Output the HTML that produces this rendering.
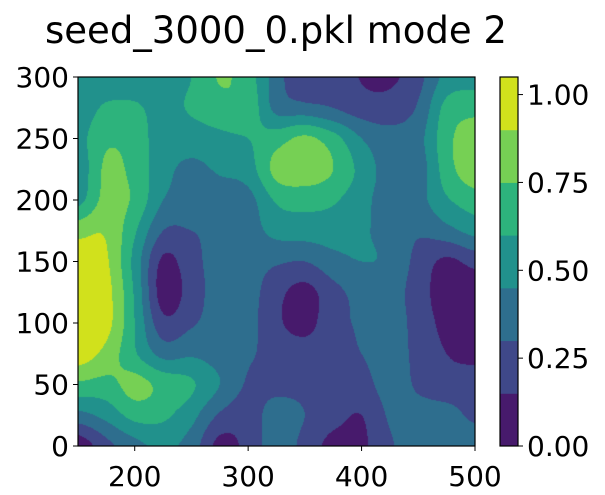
<!DOCTYPE html>
<html><head><meta charset="utf-8">
<style>
html,body{margin:0;padding:0;background:#fff;width:605px;height:495px;overflow:hidden;}
#wrap{position:relative;width:605px;height:495px;font-family:"DejaVu Sans","Liberation Sans",sans-serif;}
#field{position:absolute;left:78px;top:77px;}
svg{position:absolute;left:0;top:0;}
text{font-family:"DejaVu Sans","Liberation Sans",sans-serif;fill:#000;}
</style></head>
<body>
<div id="wrap">
<canvas id="field" width="397" height="369"></canvas>
<svg id="ax" width="605" height="495"></svg>
</div>
<script>
// data grid: columns x = 150..500 step 25, rows y = 300..0 step 25 (top to bottom)
const xCoords = [150,175,200,225,250,275,300,325,350,375,400,425,450,475,500];
const yCoords = [300,275,250,225,200,175,150,125,100,75,50,25,0];
const grid = [
[0.52,0.52,0.52,0.52,0.60,0.76,0.67,0.37,0.16,0.25,0.14,0.12,0.25,0.50,0.55],
[0.52,0.62,0.62,0.55,0.62,0.70,0.70,0.40,0.35,0.30,0.22,0.22,0.32,0.65,0.70],
[0.55,0.72,0.68,0.52,0.52,0.56,0.60,0.68,0.78,0.66,0.45,0.35,0.40,0.70,0.85],
[0.50,0.78,0.70,0.50,0.42,0.47,0.53,0.80,0.85,0.75,0.55,0.38,0.37,0.68,0.85],
[0.55,0.80,0.72,0.45,0.40,0.38,0.40,0.62,0.65,0.62,0.50,0.38,0.40,0.58,0.68],
[0.85,0.88,0.62,0.30,0.30,0.35,0.38,0.50,0.52,0.52,0.47,0.40,0.32,0.40,0.50],
[0.98,0.92,0.55,0.12,0.25,0.36,0.36,0.32,0.30,0.40,0.45,0.42,0.25,0.12,0.20],
[0.98,0.95,0.58,0.08,0.22,0.37,0.36,0.20,0.10,0.25,0.35,0.37,0.22,0.07,0.05],
[0.98,0.95,0.60,0.20,0.28,0.37,0.35,0.18,0.10,0.25,0.32,0.37,0.24,0.10,0.05],
[0.98,0.85,0.62,0.40,0.43,0.38,0.32,0.25,0.22,0.24,0.30,0.36,0.26,0.15,0.10],
[0.72,0.70,0.80,0.70,0.62,0.45,0.28,0.25,0.25,0.20,0.24,0.36,0.28,0.22,0.24],
[0.40,0.50,0.65,0.63,0.50,0.28,0.22,0.38,0.30,0.20,0.15,0.32,0.35,0.35,0.27],
[0.05,0.25,0.40,0.48,0.38,0.10,0.20,0.38,0.25,0.10,0.12,0.28,0.38,0.40,0.40]
];
const levels = [0,0.15,0.30,0.45,0.60,0.75,0.90,1.05];
const bandColors = ['#471a6c','#3f4889','#2e6e8e','#21918c','#2db37c','#76d054','#d1e11c'];
const xTicks = [200,300,400,500];
const yTicks = [0,50,100,150,200,250,300];
const cbTicks = [0,0.25,0.5,0.75,1.0];
const cbLabels = ['0.00','0.25','0.50','0.75','1.00'];

const PL=78,PT=77,PW=397,PH=369;
const xMin=150,xMax=500,yMin=0,yMax=300;
const sx = v => PL + (v-xMin)/(xMax-xMin)*PW;
const sy = v => PT + PH - (v-yMin)/(yMax-yMin)*PH;

function cr(p0,p1,p2,p3,t){return p1+0.5*t*(p2-p0+t*(2*p0-5*p1+4*p2-p3+t*(3*(p1-p2)+p3-p0)));}
function g(r,c){r=Math.max(0,Math.min(grid.length-1,r));c=Math.max(0,Math.min(grid[0].length-1,c));return grid[r][c];}
function sample(dx,dy){
  const fc=(dx-xCoords[0])/(xCoords[1]-xCoords[0]);
  const fr=(yCoords[0]-dy)/(yCoords[0]-yCoords[1]);
  const c=Math.min(Math.floor(fc),grid[0].length-2), r=Math.min(Math.floor(fr),grid.length-2);
  const tc=fc-c,tr=fr-r;const rows=[];
  for(let i=-1;i<=2;i++) rows.push(cr(g(r+i,c-1),g(r+i,c),g(r+i,c+1),g(r+i,c+2),tc));
  return cr(rows[0],rows[1],rows[2],rows[3],tr);
}
function hex(h){return [parseInt(h.slice(1,3),16),parseInt(h.slice(3,5),16),parseInt(h.slice(5,7),16)];}
const rgb=bandColors.map(hex);
const ctx=document.getElementById('field').getContext('2d');
const img=ctx.createImageData(PW,PH);
for(let py=0;py<PH;py++){for(let px=0;px<PW;px++){
  const dx=xMin+(px+0.5)/PW*(xMax-xMin), dy=yMax-(py+0.5)/PH*(yMax-yMin);
  let v=sample(dx,dy);let k=0;
  for(let i=0;i<bandColors.length;i++){if(v>=levels[i])k=i;}
  const col=rgb[k];const o=(py*PW+px)*4;
  img.data[o]=col[0];img.data[o+1]=col[1];img.data[o+2]=col[2];img.data[o+3]=255;
}}
ctx.putImageData(img,0,0);

const NS='http://www.w3.org/2000/svg';
const svg=document.getElementById('ax');
function mk(tag,attrs,parent){const e=document.createElementNS(NS,tag);for(const k in attrs)e.setAttribute(k,attrs[k]);(parent||svg).appendChild(e);return e;}

const title=mk('text',{x:276,y:43,'text-anchor':'middle','font-size':'37'});
title.textContent='seed_3000_0.pkl mode 2';



const frame=mk('rect',{x:PL,y:PT,width:PW,height:PH,fill:'none',stroke:'#000','stroke-width':1.2});



xTicks.forEach(t=>{
  const x=sx(t);
  const tk=mk('line',{x1:x,x2:x,y1:PT+PH,y2:PT+PH+5,stroke:'#000','stroke-width':1});
  
  
  const lb=mk('text',{x:x,y:486,'text-anchor':'middle','font-size':'28'});
  lb.textContent=String(t);
  
  
});
yTicks.forEach(t=>{
  const y=sy(t);
  const tk=mk('line',{x1:PL-5,x2:PL,y1:y,y2:y,stroke:'#000','stroke-width':1});
  
  
  const lb=mk('text',{x:PL-9,y:y+10,'text-anchor':'end','font-size':'28'});
  lb.textContent=String(t);
  
  
});

// colorbar
const CL=500,CW=18,CT=77,CH=369,cMax=levels[levels.length-1],cMin=levels[0];
const cy=v=>CT+CH-(v-cMin)/(cMax-cMin)*CH;
for(let i=0;i<bandColors.length;i++){
  const r=mk('rect',{x:CL,y:cy(levels[i+1]),width:CW,height:cy(levels[i])-cy(levels[i+1])+0.5,fill:bandColors[i]});
  
  
}
const cf=mk('rect',{x:CL,y:CT,width:CW,height:CH,fill:'none',stroke:'#000','stroke-width':1.2});


cbTicks.forEach((t,i)=>{
  const y=cy(t);
  const tk=mk('line',{x1:CL+CW,x2:CL+CW+5,y1:y,y2:y,stroke:'#000','stroke-width':1});
  
  
  const lb=mk('text',{x:CL+CW+9,y:y+10,'text-anchor':'start','font-size':'28'});
  lb.textContent=cbLabels[i];
  
  
});
</script>
</body></html>
